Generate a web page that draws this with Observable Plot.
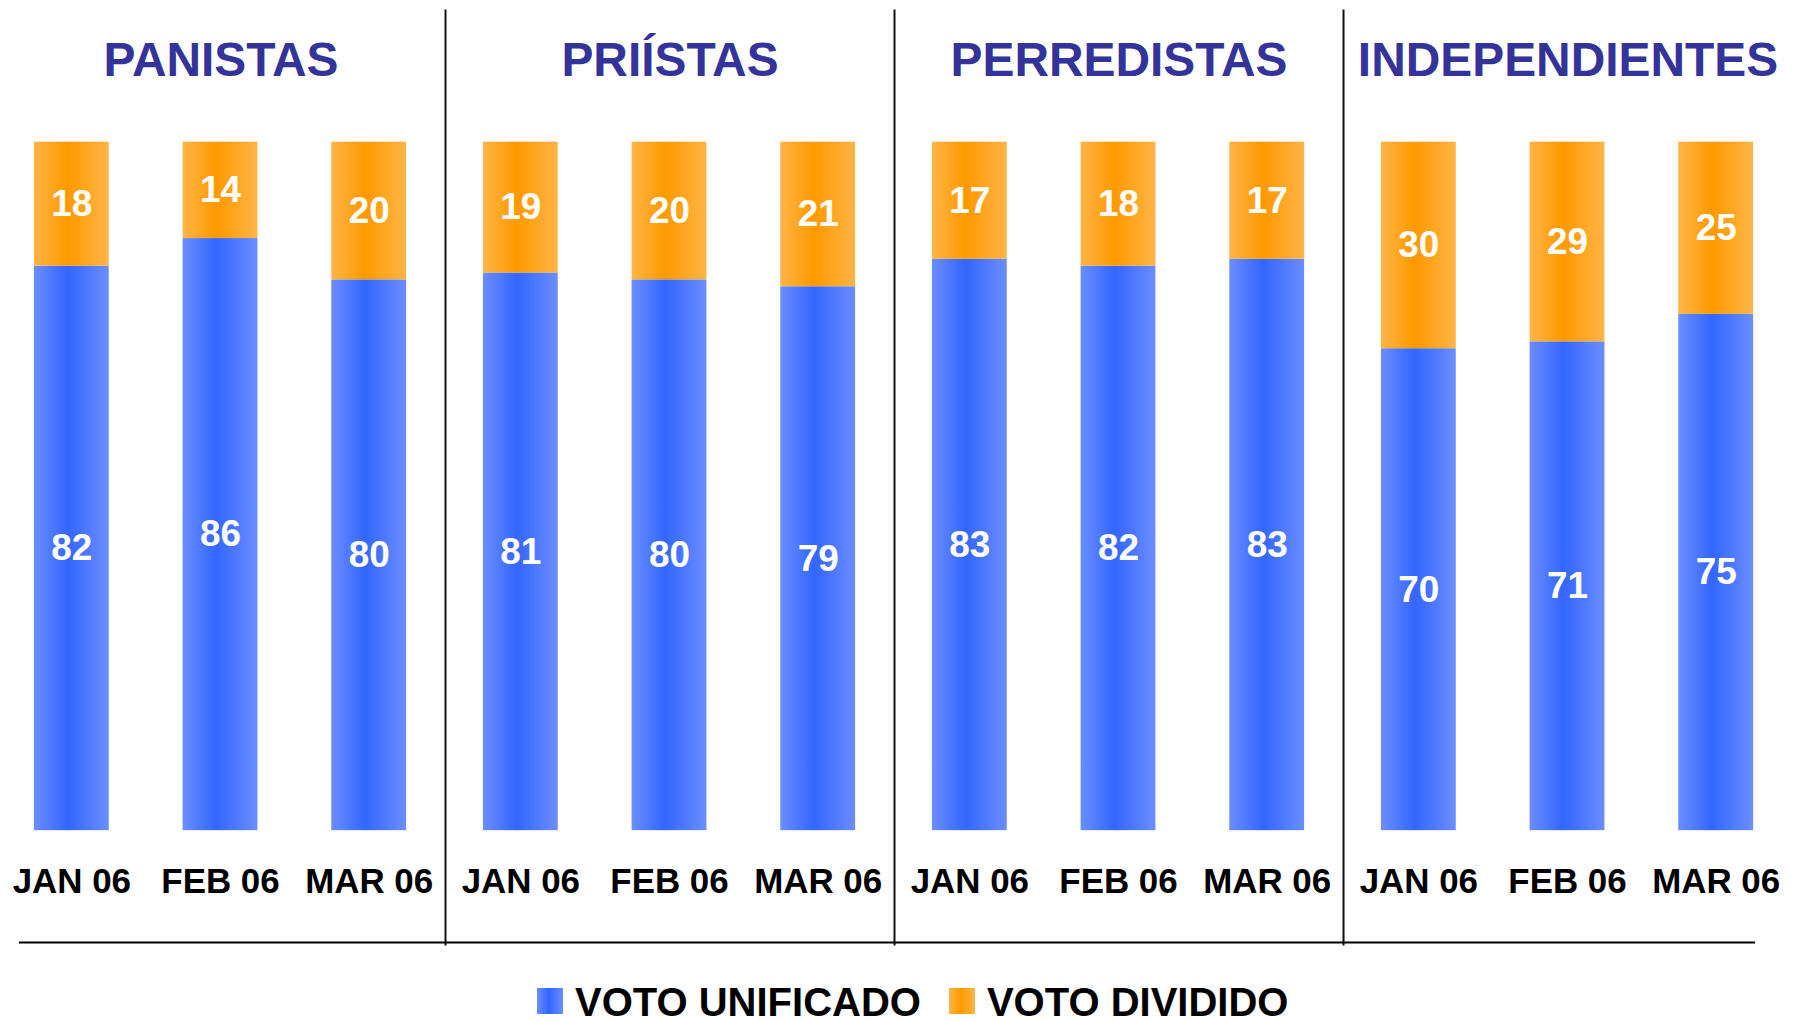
<!DOCTYPE html>
<html>
<head>
<meta charset="utf-8">
<script src="https://cdn.jsdelivr.net/npm/d3@7"></script>
<script src="https://cdn.jsdelivr.net/npm/@observablehq/plot@0.6"></script>
<style>
  html, body { margin: 0; padding: 0; background: #fff; }
  body { width: 1808px; height: 1021px; overflow: hidden; font-family: "Liberation Sans", Arial, sans-serif; }
  #chart svg { display: block; margin-left: -4px; }
  #legend { display: flex; align-items: flex-start; padding-left: 537px; padding-top: 28px; font-weight: bold; font-size: 40px; line-height: 32px; color: #000; }
  #legend .sw { width: 26px; height: 26px; margin-top: 2px; margin-right: 12px; }
  #legend .lbl { margin-right: 28px; white-space: nowrap; }
</style>
</head>
<body>
<div id="chart"></div>
<div id="legend"></div>
<script>
const groups = ["PANISTAS", "PRIÍSTAS", "PERREDISTAS", "INDEPENDIENTES"];
const months = ["JAN 06", "FEB 06", "MAR 06"];
const series = ["VOTO UNIFICADO", "VOTO DIVIDIDO"];
const unificado = [[82, 86, 80], [81, 80, 79], [83, 82, 83], [70, 71, 75]];
const dividido = [[18, 14, 20], [19, 20, 21], [17, 18, 17], [30, 29, 25]];

const rows = [];
groups.forEach((g, gi) => {
  months.forEach((m, mi) => {
    rows.push({group: g, month: m, series: series[0], value: unificado[gi][mi]});
    rows.push({group: g, month: m, series: series[1], value: dividido[gi][mi]});
  });
});

const fills = ["url(#gradUnificado)", "url(#gradDividido)"];
const font = "'Liberation Sans', Arial, sans-serif";

const chart = Plot.plot({
  width: 1812,
  height: 960,
  marginLeft: 0,
  marginRight: 12,
  marginTop: 142,
  marginBottom: 128,
  style: {fontFamily: font, background: "white", overflow: "visible"},
  fx: {domain: groups, padding: 0, axis: null},
  x: {domain: months, paddingInner: 0.4933, paddingOuter: 0.2467, axis: null},
  y: {domain: [0, 100], axis: null},
  color: {domain: series, range: fills},
  marks: [
    Plot.barY(rows, Plot.stackY({fx: "group", x: "month", y: "value", z: "series", fill: "series"})),
    Plot.text(rows, Plot.stackY({fx: "group", x: "month", y: "value", z: "series",
      text: d => String(d.value), fill: "white", fontSize: 37, fontWeight: "bold"})),
    Plot.axisFx({anchor: "top", tickSize: 0, tickPadding: 66, fontSize: 48, fontWeight: "bold",
      fill: "#333399", label: null}),
    Plot.axisX({anchor: "bottom", tickSize: 0, tickPadding: 38, fontSize: 35, fontWeight: "bold",
      fill: "black", label: null}),
    Plot.frame({anchor: "left", stroke: "#111", strokeWidth: 2, insetTop: -132, insetBottom: -114}),
    Plot.ruleY([groups[0]], {fx: d => d, y: 0, dy: 112, stroke: "#000", strokeWidth: 2, insetLeft: 23}),
    Plot.ruleY([groups[1], groups[2]], {fx: d => d, y: 0, dy: 112, stroke: "#000", strokeWidth: 2}),
    Plot.ruleY([groups[3]], {fx: d => d, y: 0, dy: 112, stroke: "#000", strokeWidth: 2, insetRight: 37})
  ]
});

// gradient definitions for the shaded bars
const svg = d3.select(chart);
const defs = svg.insert("defs", ":first-child");
function grad(id, light, dark) {
  const g = defs.append("linearGradient").attr("id", id).attr("x1", "0").attr("x2", "1").attr("y1", "0").attr("y2", "0");
  g.append("stop").attr("offset", "0%").attr("stop-color", light);
  g.append("stop").attr("offset", "45%").attr("stop-color", dark);
  g.append("stop").attr("offset", "100%").attr("stop-color", light);
}
grad("gradUnificado", "#6b8dff", "#3366ff");
grad("gradDividido", "#ffb547", "#ff9900");
document.getElementById("chart").appendChild(chart);

// legend
const legend = d3.select("#legend");
series.forEach((s, i) => {
  const sw = legend.append("svg").attr("class", "sw").attr("width", 26).attr("height", 26);
  sw.append("rect").attr("width", 26).attr("height", 26).attr("fill", fills[i]);
  legend.append("span").attr("class", "lbl").text(s);
});
</script>
</body>
</html>
